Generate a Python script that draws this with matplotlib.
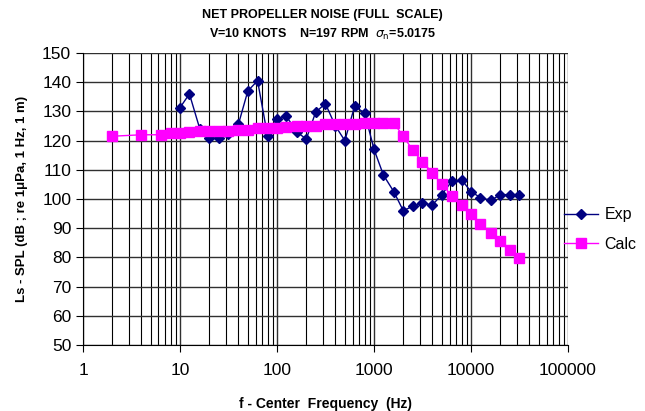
import matplotlib.pyplot as plt
from matplotlib.ticker import FixedLocator, LogLocator, NullFormatter

plt.rcParams['font.family'] = ['Liberation Sans', 'DejaVu Sans']

# one-third octave band centre frequencies (Hz)
freq_exp = [10, 12.5, 16, 20, 25, 31.5, 40, 50, 63, 80, 100, 125, 160, 200, 250,
            315, 400, 500, 630, 800, 1000, 1250, 1600, 2000, 2500, 3150, 4000,
            5000, 6300, 8000, 10000, 12500, 16000, 20000, 25000, 31500]
spl_exp = [131.3, 136, 124, 120.8, 121, 122.2, 125.6, 137, 140.5, 121.5, 127.3, 128.3,
           123, 120.5, 129.7, 132.7, 125, 120, 131.7, 129.5, 117, 108.2, 102.5, 96,
           97.5, 98.5, 98, 101.5, 106, 106.6, 102.5, 100.5, 99.5, 101.5, 101.5, 101.5]

freq_calc = [2, 4, 6.3, 8, 10, 12.5, 16, 20, 25, 31.5, 40, 50, 63, 80, 100, 125, 160,
             200, 250, 315, 400, 500, 630, 800, 1000, 1250, 1600, 2000, 2500, 3150,
             4000, 5000, 6300, 8000, 10000, 12500, 16000, 20000, 25000, 31500]
spl_calc = [121.5, 122, 122, 122.5, 122.5, 123, 123.2, 123.2, 123.2, 123.3, 123.6, 123.6,
            124.2, 124.2, 124.4, 124.8, 125, 125, 125, 125.6, 125.6, 125.6, 125.7, 126,
            126, 126, 126, 121.5, 116.8, 112.7, 109, 105, 101.2, 97.8, 94.7, 91.4,
            88.3, 85.6, 82.5, 79.8]

x_ticks = [1, 10, 100, 1000, 10000, 100000]
y_ticks = list(range(50, 151, 10))

fig = plt.figure(figsize=(6.45, 4.11), dpi=100)
ax = fig.add_axes([0.1287, 0.1606, 0.752, 0.7104])

ax.plot(freq_exp, spl_exp, color='#000080', lw=1, marker='D', ms=5, label='Exp')
ax.plot(freq_calc, spl_calc, color='#FF00FF', lw=1, marker='s', ms=7, label='Calc')

ax.set_xscale('log')
ax.set_xlim(1, 100000)
ax.set_ylim(50, 150)
ax.xaxis.set_major_locator(FixedLocator(x_ticks))
ax.set_xticklabels([str(t) for t in x_ticks])
ax.xaxis.set_minor_locator(LogLocator(base=10, subs=range(2, 10)))
ax.xaxis.set_minor_formatter(NullFormatter())
ax.set_yticks(y_ticks)

ax.grid(True, which='major', color='#303030', lw=1)
ax.grid(True, which='minor', axis='x', color='k', lw=0.8)
ax.tick_params(axis='both', which='major', labelsize=12.5, direction='out', length=5)
ax.tick_params(axis='x', which='major', pad=8)
ax.tick_params(axis='x', which='minor', length=0)
for s in ['top', 'right']:
    ax.spines[s].set_visible(False)

ax.set_xlabel('f - Center  Frequency  (Hz)', fontsize=10, fontweight='bold', labelpad=14)
ax.set_ylabel('Ls - SPL (dB ; re 1μPa, 1 Hz, 1 m)', fontsize=9.5, fontweight='bold', labelpad=10)
fig.suptitle('NET PROPELLER NOISE (FULL  SCALE)\n'
             'V=10 KNOTS    N=197 RPM  $\\sigma_{\\rm n}$=5.0175',
             fontsize=9, fontweight='bold', y=0.978, va='top', linespacing=1.55)

ax.legend(loc='center left', bbox_to_anchor=(0.963, 0.395), frameon=False,
          fontsize=11.5, handlelength=2.1, handletextpad=0.4, labelspacing=0.9)

fig.savefig('out.png', dpi=100)
